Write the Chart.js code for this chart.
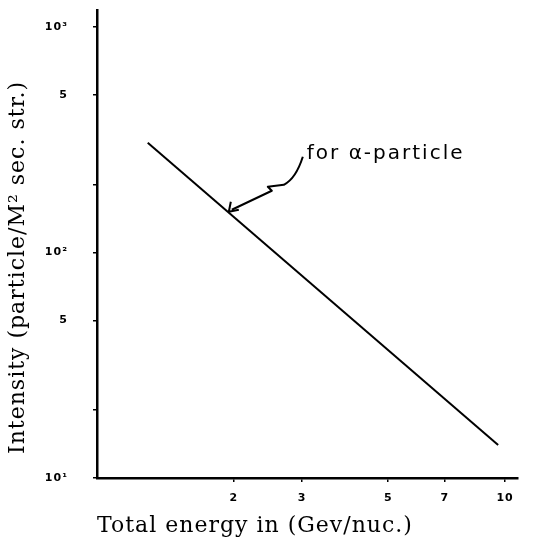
<!DOCTYPE html>
<html>
<head>
<meta charset="utf-8">
<script src="https://cdn.jsdelivr.net/npm/chart.js@4/dist/chart.umd.min.js"></script>
<style>
  html, body { margin: 0; padding: 0; background: #fff; }
  #wrap { width: 551px; height: 545px; }
</style>
</head>
<body>
<div id="wrap"><canvas id="chart"></canvas></div>
<script>
// energy (Gev/nuc.) and intensity of the alpha-particle line
const energy = [1.2, 9.6];
const intensity = [307, 14];

const xTicks = [2, 3, 5, 7, 10];
const yTicks = [10, 20, 50, 100, 200, 500, 1000];
const yTickLabels = { 10: '10¹', 50: '5', 100: '10²', 500: '5', 1000: '10³' };

const noteText = 'for α-particle';
const noteAtEnergy = 1.93;

const points = energy.map((x, i) => ({ x: x, y: intensity[i] }));

// wider letters, like the typed labels of the original
const spacingPlugin = {
    id: 'spacing',
    beforeDraw(chart) {
        chart.ctx.letterSpacing = '1px';
    }
};

// hand drawn arrow pointing at the line
const notePlugin = {
    id: 'note',
    afterDatasetsDraw(chart) {
        const ctx = chart.ctx;
        const xs = chart.scales.x, ys = chart.scales.y;
        // log interpolation along the line
        const t = (Math.log(noteAtEnergy) - Math.log(energy[0])) / (Math.log(energy[1]) - Math.log(energy[0]));
        const yv = Math.exp(Math.log(intensity[0]) + t * (Math.log(intensity[1]) - Math.log(intensity[0])));
        const tx = xs.getPixelForValue(noteAtEnergy);
        const ty = ys.getPixelForValue(yv);

        ctx.save();
        ctx.strokeStyle = '#000';
        ctx.lineWidth = 2;
        ctx.lineJoin = 'round';
        ctx.beginPath();
        ctx.moveTo(tx + 75, ty - 55);
        ctx.quadraticCurveTo(tx + 68, ty - 33, tx + 56, ty - 27);
        ctx.lineTo(tx + 40, ty - 25);
        ctx.lineTo(tx + 44, ty - 21);
        ctx.lineTo(tx + 4, ty - 2);
        ctx.stroke();
        // head
        ctx.beginPath();
        ctx.moveTo(tx + 3, ty - 10);
        ctx.lineTo(tx + 1, ty);
        ctx.lineTo(tx + 11, ty - 2);
        ctx.stroke();

        ctx.fillStyle = '#000';
        ctx.font = '20px "DejaVu Sans"';
        ctx.letterSpacing = '2px';
        ctx.textBaseline = 'alphabetic';
        ctx.fillText(noteText, tx + 79, ty - 53);
        ctx.restore();
    }
};

new Chart(document.getElementById('chart'), {
    type: 'line',
    data: {
        datasets: [{
            data: points,
            borderColor: '#000',
            borderWidth: 2,
            pointRadius: 0,
            fill: false,
        }]
    },
    options: {
        responsive: true,
        maintainAspectRatio: false,
        animation: false,
        layout: {
            padding: { left: 0, right: 33, top: 10, bottom: 0 }
        },
        plugins: {
            legend: { display: false },
            tooltip: { enabled: false }
        },
        scales: {
            x: {
                type: 'logarithmic',
                min: 0.888,
                max: 10.8,
                afterBuildTicks(scale) {
                    scale.ticks = xTicks.map(v => ({ value: v }));
                },
                afterFit(scale) {
                    scale.height = 545 - 478;
                    scale.paddingLeft = 0;
                    scale.paddingRight = 0;
                },
                ticks: {
                    autoSkip: false,
                    maxRotation: 0,
                    padding: 10,
                    color: '#000',
                    font: { family: 'DejaVu Sans', size: 11, weight: 'bold' },
                    callback: (v) => String(v)
                },
                grid: {
                    drawOnChartArea: false,
                    drawTicks: true,
                    tickLength: 4,
                    color: '#000',
                    lineWidth: 1.5
                },
                border: { color: '#000', width: 2.5 },
                title: {
                    display: true,
                    align: 'start',
                    text: 'Total energy in (Gev/nuc.)',
                    color: '#000',
                    font: { family: 'DejaVu Serif', size: 22 },
                    padding: { top: 2, bottom: 6 }
                }
            },
            y: {
                type: 'logarithmic',
                min: 10,
                max: 1190,
                afterBuildTicks(scale) {
                    scale.ticks = yTicks.map(v => ({ value: v }));
                },
                afterFit(scale) {
                    scale.width = 97;
                    scale.paddingTop = 0;
                    scale.paddingBottom = 0;
                },
                ticks: {
                    autoSkip: false,
                    padding: 25,
                    color: '#000',
                    font: { family: 'DejaVu Sans', size: 11, weight: 'bold' },
                    callback: (v) => yTickLabels[v] || ''
                },
                grid: {
                    drawOnChartArea: false,
                    drawTicks: true,
                    tickLength: 4,
                    color: '#000',
                    lineWidth: 1.5
                },
                border: { color: '#000', width: 2.5 },
                title: {
                    display: true,
                    align: 'start',
                    text: '   Intensity (particle/M² sec. str.)',
                    color: '#000',
                    font: { family: 'DejaVu Serif', size: 22 },
                    padding: { top: 5, bottom: 0 }
                }
            }
        }
    },
    plugins: [spacingPlugin, notePlugin]
});
</script>
</body>
</html>
